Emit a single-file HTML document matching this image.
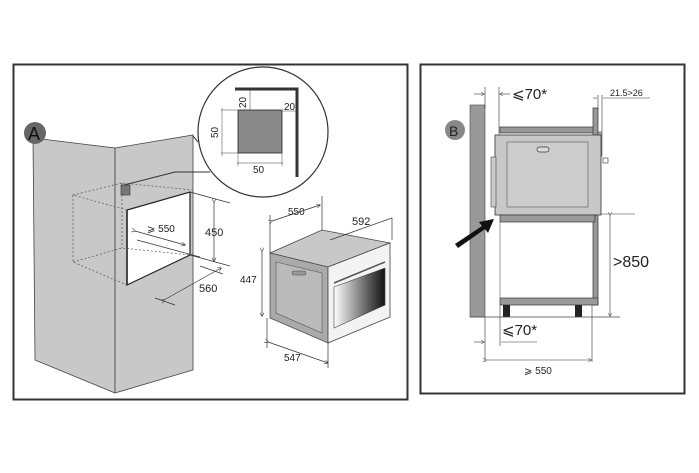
<!DOCTYPE html>
<html><head><meta charset="utf-8"><style>
html,body{margin:0;padding:0;background:#fff;}
svg{display:block;font-family:"Liberation Sans",sans-serif;}
</style></head><body>
<svg width="699" height="473" viewBox="0 0 699 473" xmlns="http://www.w3.org/2000/svg">
<defs>
<marker id="ar" markerWidth="6" markerHeight="6" refX="5" refY="3" orient="auto"><path d="M0,0 L6,3 L0,6" fill="none" stroke="#333" stroke-width="0.8"/></marker>
<linearGradient id="win" x1="0" x2="1"><stop offset="0" stop-color="#fff"/><stop offset="0.7" stop-color="#555"/><stop offset="1" stop-color="#111"/></linearGradient>
</defs>
<!-- Panel A -->
<rect x="13.5" y="64.5" width="394" height="335" fill="#fff" stroke="#333" stroke-width="2"/>
<polygon points="33,138 115,148 115,393 35,360" fill="#c8c8c8" stroke="#444" stroke-width="0.8"/>
<polygon points="115,148 193,135 193,370 115,393" fill="#c8c8c8" stroke="#444" stroke-width="0.8"/>
<polygon points="127,210 190,192 190,255 127,285" fill="#fff" stroke="#222" stroke-width="1.2"/>
<polyline points="127,210 127,285" stroke="#222" stroke-width="1.5" fill="none"/>
<g stroke="#555" stroke-dasharray="2,2" fill="none" stroke-width="0.7">
<polyline points="127,210 73,195 122,183 193,190"/>
<polyline points="73,195 73,262 127,285"/>
<polyline points="73,262 122,248 190,255"/>
<line x1="122" y1="183" x2="122" y2="248"/>
</g>
<rect x="121" y="185" width="9" height="10" fill="#777" stroke="#333" stroke-width="0.6"/>
<g stroke="#333" stroke-width="0.7" fill="none">
<line x1="190" y1="192" x2="230" y2="203"/>
<line x1="190" y1="255" x2="230" y2="266"/>
<line x1="214" y1="202" x2="214" y2="261" marker-start="url(#ar)" marker-end="url(#ar)"/>
<line x1="135" y1="231" x2="185" y2="245" marker-start="url(#ar)" marker-end="url(#ar)"/>
<line x1="137" y1="240" x2="200" y2="257"/>
<line x1="200" y1="266" x2="223" y2="274"/>
<line x1="164" y1="300" x2="221" y2="268" marker-start="url(#ar)" marker-end="url(#ar)"/>
<line x1="155" y1="298" x2="175" y2="305"/>
</g>
<text x="147" y="232" font-size="10" fill="#222">⩾ 550</text>
<text x="205" y="236" font-size="11" fill="#222">450</text>
<text x="199" y="292" font-size="11" fill="#222">560</text>
<circle cx="263" cy="132" r="65" fill="#fff" stroke="#333" stroke-width="1.2"/>
<path d="M193,136 L198,142" stroke="#333" stroke-width="1" fill="none"/>
<path d="M124,185 L175,172 L210,172" stroke="#333" stroke-width="1" fill="none"/>
<polyline points="235,89 297,89 297,177" fill="none" stroke="#333" stroke-width="3"/>
<rect x="238" y="110" width="44" height="43" fill="#8a8a8a" stroke="#222" stroke-width="0.8"/>
<g stroke="#444" stroke-width="0.5" fill="none">
<line x1="250" y1="90" x2="250" y2="110"/><line x1="221" y1="110" x2="238" y2="110"/><line x1="221" y1="153" x2="238" y2="153"/>
<line x1="222" y1="108" x2="222" y2="156"/><line x1="282" y1="111" x2="297" y2="111"/>
<line x1="237" y1="163" x2="283" y2="163"/><line x1="238" y1="153" x2="238" y2="166"/><line x1="282" y1="153" x2="282" y2="166"/>
</g>
<text x="0" y="0" font-size="10" fill="#222" transform="translate(246,108) rotate(-90)">20</text>
<text x="284" y="110" font-size="10" fill="#222">20</text>
<text x="0" y="0" font-size="10" fill="#222" transform="translate(218,138) rotate(-90)">50</text>
<text x="253" y="173" font-size="10" fill="#222">50</text>
<circle cx="35" cy="133" r="11" fill="#666"/>
<text x="28" y="140" font-size="18" fill="#111">A</text>
<polygon points="270,253 322,230 390,243 328,267" fill="#c8c8c8" stroke="#444" stroke-width="0.7"/>
<polygon points="270,253 328,267 328,343 270,318" fill="#aaa" stroke="#444" stroke-width="0.7"/>
<polygon points="276,262 322,273 322,333 276,313" fill="#bbb" stroke="#555" stroke-width="0.6"/>
<rect x="292" y="271" width="14" height="4" rx="2" fill="#999" stroke="#444" stroke-width="0.5"/>
<polygon points="328,267 390,243 390,317 328,343" fill="#f3f3f3" stroke="#444" stroke-width="0.8"/>
<polygon points="334,287 385,268 385,305 334,328" fill="url(#win)" stroke="#444" stroke-width="0.6"/>
<line x1="334" y1="283" x2="385" y2="262" stroke="#555" stroke-width="1.5"/>
<g stroke="#333" stroke-width="0.7" fill="none">
<line x1="322" y1="230" x2="322" y2="196"/><line x1="270" y1="253" x2="270" y2="215"/>
<line x1="272" y1="221" x2="320" y2="205" marker-start="url(#ar)" marker-end="url(#ar)"/>
<line x1="330" y1="240" x2="392" y2="218"/><line x1="392" y1="218" x2="392" y2="240"/>
<line x1="262" y1="251" x2="262" y2="316" marker-start="url(#ar)" marker-end="url(#ar)"/>
<line x1="268" y1="342" x2="328" y2="363" marker-start="url(#ar)" marker-end="url(#ar)"/>
<line x1="267" y1="318" x2="267" y2="348"/><line x1="328" y1="343" x2="328" y2="368"/>
</g>
<text x="288" y="215" font-size="10" fill="#222">550</text>
<text x="352" y="225" font-size="11" fill="#222">592</text>
<text x="240" y="283" font-size="10" fill="#222">447</text>
<text x="284" y="361" font-size="10" fill="#222">547</text>
<!-- Panel B -->
<rect x="420.5" y="64.5" width="264" height="329" fill="#fff" stroke="#333" stroke-width="2"/>
<rect x="470" y="105" width="15" height="212" fill="#999" stroke="#444" stroke-width="0.6"/>
<rect x="500" y="127" width="95" height="6" fill="#999" stroke="#333" stroke-width="0.7"/>
<rect x="593" y="108" width="5" height="197" fill="#999" stroke="#333" stroke-width="0.7"/>
<rect x="598" y="132" width="4" height="24" fill="#aaa" stroke="#333" stroke-width="0.5"/>
<rect x="603" y="158" width="5" height="5" fill="#fff" stroke="#333" stroke-width="0.6"/>
<rect x="495" y="135" width="106" height="80" fill="#c8c8c8" stroke="#333" stroke-width="0.8"/>
<rect x="507" y="142" width="81" height="65" fill="#ccc" stroke="#555" stroke-width="0.6"/>
<rect x="537" y="147" width="12" height="5" rx="2.5" fill="#ddd" stroke="#333" stroke-width="0.7"/>
<rect x="491" y="157" width="5" height="50" fill="#ccc" stroke="#444" stroke-width="0.6"/>
<rect x="500" y="215" width="95" height="7" fill="#999" stroke="#333" stroke-width="0.7"/>
<rect x="500" y="298" width="98" height="7" fill="#999" stroke="#333" stroke-width="0.7"/>
<line x1="500" y1="222" x2="500" y2="298" stroke="#555" stroke-width="0.6"/>
<rect x="503" y="305" width="7" height="12" fill="#222"/>
<rect x="575" y="305" width="7" height="12" fill="#222"/>
<line x1="470" y1="317" x2="620" y2="317" stroke="#444" stroke-width="0.7"/>
<polygon points="455,244 482,226 479,222 494,219 488,233 485,229 458,248" fill="#111"/>
<circle cx="455" cy="130" r="10" fill="#888"/>
<text x="449" y="136" font-size="14" fill="#222">B</text>
<g stroke="#333" stroke-width="0.6" fill="none">
<line x1="485" y1="87" x2="485" y2="108"/><line x1="499" y1="87" x2="499" y2="135"/>
<line x1="474" y1="94" x2="484" y2="94" marker-end="url(#ar)"/><line x1="510" y1="94" x2="500" y2="94" marker-end="url(#ar)"/>
<line x1="598" y1="95" x2="598" y2="110"/><line x1="602" y1="95" x2="602" y2="132"/>
<line x1="593" y1="98" x2="597" y2="98"/><line x1="603" y1="98" x2="650" y2="98"/>
<line x1="601" y1="214" x2="635" y2="214"/>
<line x1="610" y1="215" x2="610" y2="316" marker-start="url(#ar)" marker-end="url(#ar)"/>
<line x1="485" y1="317" x2="485" y2="362"/><line x1="500" y1="305" x2="500" y2="346"/>
<line x1="474" y1="342" x2="484" y2="342" marker-end="url(#ar)"/><line x1="537" y1="342" x2="501" y2="342"/>
<line x1="592" y1="305" x2="592" y2="362"/>
<line x1="486" y1="360" x2="591" y2="360" marker-start="url(#ar)" marker-end="url(#ar)"/>
</g>
<text x="512" y="99" font-size="15" fill="#222">⩽70*</text>
<text x="610" y="96" font-size="9" fill="#222">21.5&gt;26</text>
<text x="613" y="267" font-size="16" fill="#222">&gt;850</text>
<text x="502" y="335" font-size="15" fill="#222">⩽70*</text>
<text x="524" y="374" font-size="10" fill="#222">⩾ 550</text>
</svg>
</body></html>
